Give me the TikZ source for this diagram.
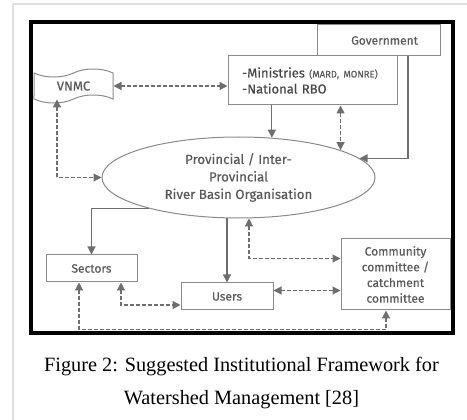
\documentclass[tikz,border=0pt]{standalone}
\usepackage{fontspec}
\setmainfont{Liberation Serif}
\newfontfamily\sketchfont{Fira Sans}[FakeBold=0.35]
\usetikzlibrary{arrows.meta,positioning,calc,shapes.geometric,shapes.symbols}

\definecolor{linegray}{HTML}{6E6E6E}
\definecolor{boxgray}{HTML}{8A8A8A}
\definecolor{textgray}{HTML}{595959}

\begin{document}
\begin{tikzpicture}[x=1pt, y=-1pt,
  % Node styles
  box/.style={draw=boxgray, line width=1pt, fill=white, inner sep=2pt,
              font=\sketchfont\fontsize{12}{14}\selectfont, text=textgray, align=center},
  org/.style={draw=boxgray, line width=1pt, ellipse, inner sep=0pt,
              minimum width=273pt, minimum height=81pt,
              font=\sketchfont\fontsize{13.3}{17.5}\selectfont, text=textgray, align=center},
  flag/.style={draw=boxgray, line width=1pt, tape, tape bend height=8pt,
               minimum width=79pt, minimum height=34pt, inner sep=0pt,
               font=\sketchfont\fontsize{13}{14}\selectfont, text=textgray},
  % Arrow styles
  arr/.style={-{Triangle[length=8pt, width=8pt]}, line width=1.2pt, linegray},
  dbl/.style={{Triangle[length=8pt, width=8pt]}-{Triangle[length=8pt, width=8pt]},
              line width=1.2pt, linegray, dash pattern=on 4pt off 2pt},
  % Caption style
  captext/.style={font=\fontsize{20.3}{33}\selectfont, align=center, inner sep=0pt},
]
\useasboundingbox (0,0) rectangle (467,420);

% === Frames ===
\draw[gray!25, line width=1.5pt] (467,4) -- (13,4) -- (13,420);
\draw[line width=4pt] (31,22) rectangle (453,333);

% === Top row ===
\node[box, text width=79pt, inner xsep=22pt, align=right, minimum height=31pt] (gov) at (378.5,40.5) {Government};
\node[box, text width=141pt, inner xsep=14pt, align=left, minimum height=49pt,
      font=\sketchfont\fontsize{13}{16}\selectfont, text=textgray!80!black] (min) at (312.5,80.5)
  {-Ministries {\fontsize{9.5}{10}\selectfont\color{textgray} (MARD, MONRE)}\\-National RBO};
\node[flag] (vnmc) at (73.5,86) {VNMC};

% === Middle ===
\node[org] (prov) at (238.5,177.5) {Provincial / Inter-\\Provincial\\River Basin Organisation};

% === Bottom row ===
\node[box, minimum width=91pt, minimum height=27pt] (sectors) at (91.5,268.5) {Sectors};
\node[box, minimum width=92pt, minimum height=27pt] (users) at (227,296.5) {Users};
\node[box, minimum width=109pt, minimum height=71pt, font=\sketchfont\fontsize{12}{15.7}\selectfont]
  (comm) at (395.5,274.5) {Community\\committee /\\catchment\\committee};

\coordinate (govout) at (408,56);

% === Solid arrows ===
\draw[arr] (prov.50 |- min.south) -- (prov.50);
\draw[arr] (govout) |- (prov.9);
\draw[arr] (prov.199) -| (sectors.north);
\draw[arr] (prov.south -| users.north) -- (users.north);

% === Dashed arrows ===
\draw[dbl] (vnmc.east) -- (vnmc.east -| min.west);
\draw[dbl] (prov.15 |- min.south) -- (prov.15);
\draw[dbl] ([xshift=-16.5pt]vnmc.south) |- (prov.west);
\draw[dbl] ([xshift=10.5pt]prov.south) |- ([yshift=16pt]comm.west);
\draw[dbl] ([yshift=6pt]users.east) -- ([yshift=6pt]users.east -| comm.west);
\draw[dbl] ([xshift=29.5pt]sectors.south) |- ([yshift=-8.5pt]users.west);
\draw[dbl] ([xshift=-12.5pt]sectors.south) -- ++(0,-47pt) -| ([xshift=-9.5pt]comm.south);

% === Caption ===
\node[captext] (caption) at (241.5,383) {Figure 2: Suggested Institutional Framework for\\Watershed Management [28]};
\end{tikzpicture}
\end{document}
